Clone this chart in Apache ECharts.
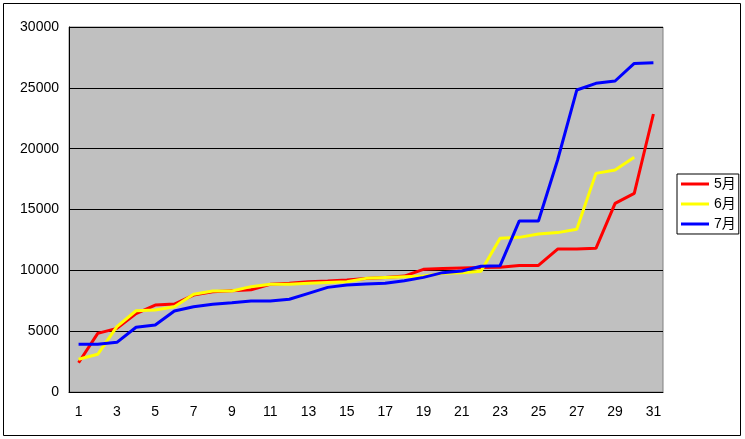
<!DOCTYPE html>
<html>
<head>
<meta charset="utf-8">
<script src="https://cdn.jsdelivr.net/npm/echarts@6/dist/echarts.min.js"></script>
<style>
  html, body { margin: 0; padding: 0; background: #fff; }
  #chart { width: 745px; height: 439px; }
</style>
</head>
<body>
<div id="chart"></div>
<script>
  // days of the month
  const days = [];
  for (let d = 1; d <= 31; d++) days.push(String(d));

  const may = [2400, 4820, 5230, 6450, 7150, 7230, 7970, 8240, 8330, 8400,
    8850, 8930, 9070, 9120, 9200, 9330, 9420, 9530, 10080, 10160,
    10200, 10240, 10250, 10400, 10400, 11750, 11750, 11810, 15510, 16330,
    22850];
  const june = [2690, 3100, 5370, 6680, 6740, 7010, 8030, 8300, 8300, 8660,
    8850, 8850, 8930, 9010, 9070, 9340, 9420, 9480, 9530, 9750,
    9810, 9930, 12630, 12710, 12990, 13100, 13370, 17970, 18250, 19290,
    '-'];
  const july = [3920, 3920, 4080, 5320, 5510, 6660, 7010, 7210, 7340, 7480,
    7480, 7620, 8110, 8600, 8790, 8880, 8930, 9150, 9420, 9810,
    9950, 10330, 10380, 14060, 14060, 19070, 24820, 25370, 25560, 27010,
    27060];

  const seriesNames = ['5月', '6月', '7月'];
  const seriesColors = ['#ff0000', '#ffff00', '#0000ff'];
  const seriesData = [may, june, july];

  const font = '"Liberation Sans", "Noto Sans CJK JP", sans-serif';

  let chart = echarts.init(document.getElementById('chart'));
  let option = {
    animation: false,
    backgroundColor: '#ffffff',
    textStyle: { fontFamily: font },
    graphic: [{
      type: 'rect',
      shape: { x: 3.5, y: 3.5, width: 737, height: 432 },
      style: { fill: 'none', stroke: '#000', lineWidth: 1 },
      silent: true
    }],
    grid: {
      left: 69, top: 27, right: 82, bottom: 47,
      show: true,
      backgroundColor: '#c0c0c0',
      borderColor: '#808080',
      borderWidth: 1
    },
    legend: {
      orient: 'vertical',
      left: 677, top: 174,
      padding: [3, 3, 3, 4],
      itemGap: 6,
      itemWidth: 28,
      itemHeight: 3,
      icon: 'rect',
      borderColor: '#000',
      borderWidth: 1,
      textStyle: { fontSize: 14, color: '#000', fontFamily: font },
      data: seriesNames
    },
    xAxis: {
      type: 'category',
      data: days,
      boundaryGap: true,
      axisLine: { lineStyle: { color: '#000', width: 1 } },
      axisTick: { inside: true, length: 4, interval: 0, lineStyle: { color: '#000' } },
      axisLabel: { interval: 1, color: '#000', fontSize: 14, margin: 13 }
    },
    yAxis: {
      type: 'value',
      min: 0, max: 30000, interval: 5000,
      axisLine: { show: true, lineStyle: { color: '#000', width: 1 } },
      axisTick: { show: false },
      axisLabel: { color: '#000', fontSize: 14, margin: 10, formatter: v => String(v) },
      splitLine: { lineStyle: { color: '#000', width: 1 } }
    },
    series: seriesNames.map((name, i) => ({
      name: name,
      type: 'line',
      data: seriesData[i],
      symbol: 'none',
      color: seriesColors[i],
      lineStyle: { color: seriesColors[i], width: 3 }
    }))
  };
  chart.setOption(option);
</script>
</body>
</html>
